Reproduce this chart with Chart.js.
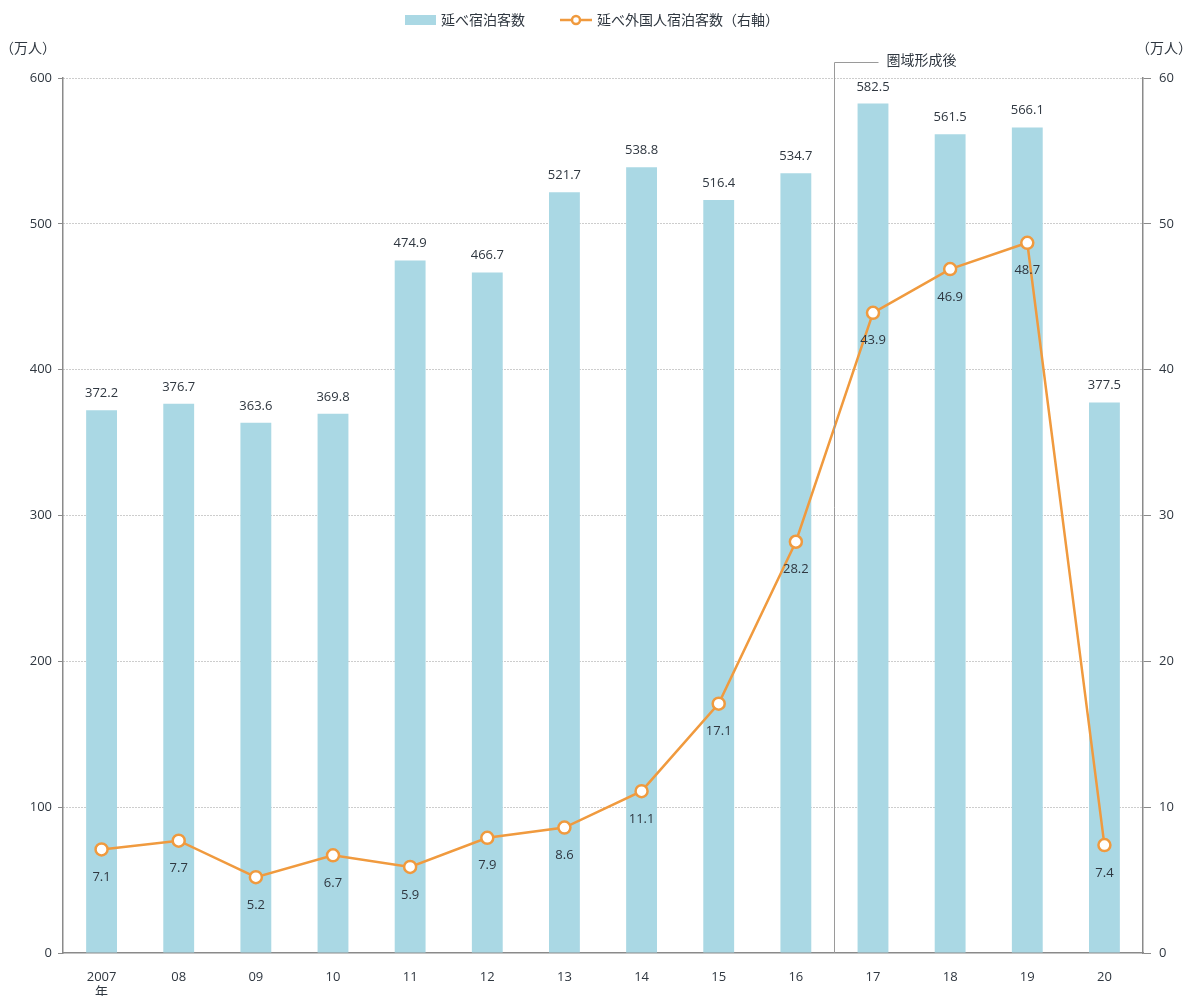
<!DOCTYPE html>
<html>
<head>
<meta charset="utf-8">
<script src="https://cdn.jsdelivr.net/npm/chart.js@4/dist/chart.umd.min.js"></script>
<style>
  html, body { margin: 0; padding: 0; background: #fff; }
  #wrap { width: 1192px; height: 996px; }
</style>
</head>
<body>
<div id="wrap"><canvas id="myChart" width="1192" height="996"></canvas></div>
<script>
var years = [['2007', '年'], '08', '09', '10', '11', '12', '13', '14', '15', '16', '17', '18', '19', '20'];
var guests = [372.2, 376.7, 363.6, 369.8, 474.9, 466.7, 521.7, 538.8, 516.4, 534.7, 582.5, 561.5, 566.1, 377.5];
var foreignGuests = [7.1, 7.7, 5.2, 6.7, 5.9, 7.9, 8.6, 11.1, 17.1, 28.2, 43.9, 46.9, 48.7, 7.4];
var leftTicks = [0, 100, 200, 300, 400, 500, 600];
var rightTicks = [0, 10, 20, 30, 40, 50, 60];

var FONT = '"Open Sans", "Noto Sans CJK JP", sans-serif';
var JFONT = '"Noto Sans CJK JP", sans-serif';
var barColor = '#aad8e4';
var lineColor = '#f09a3e';
var textColor = '#2f3740';
var axisColor = '#8a8a8a';

// value labels, legend, unit labels and the 圏域形成後 marker
var extras = {
  id: 'extras',
  afterDatasetsDraw: function(chart) {
    var ctx = chart.ctx;
    var x = chart.scales.x;
    var area = chart.chartArea;
    ctx.save();

    // separator
    var sx = Math.round(x.getPixelForValue(9.5)) + 0.5;
    ctx.strokeStyle = '#9a9a9a';
    ctx.lineWidth = 1;
    ctx.beginPath();
    ctx.moveTo(sx, area.bottom);
    ctx.lineTo(sx, 62.5);
    ctx.lineTo(sx + 44, 62.5);
    ctx.stroke();
    ctx.fillStyle = textColor;
    ctx.font = '14px ' + JFONT;
    ctx.textAlign = 'left';
    ctx.textBaseline = 'middle';
    ctx.fillText('圏域形成後', sx + 52, 60);

    // bar values
    ctx.font = '13px ' + FONT;
    ctx.textAlign = 'center';
    ctx.textBaseline = 'alphabetic';
    chart.getDatasetMeta(1).data.forEach(function(bar, i) {
      ctx.fillText(guests[i].toFixed(1), bar.x, bar.y - 13);
    });
    // line values
    ctx.textBaseline = 'middle';
    chart.getDatasetMeta(0).data.forEach(function(pt, i) {
      ctx.fillText(foreignGuests[i].toFixed(1), pt.x, pt.y + 28);
    });

    // units
    ctx.font = '14px ' + JFONT;
    ctx.textAlign = 'left';
    ctx.fillText('（万人）', 0, 48);
    ctx.fillText('（万人）', 1136, 48);

    // legend
    ctx.fillStyle = barColor;
    ctx.fillRect(405, 15, 31, 10);
    ctx.fillStyle = textColor;
    ctx.fillText('延べ宿泊客数', 441, 20);
    ctx.strokeStyle = lineColor;
    ctx.lineWidth = 2.5;
    ctx.beginPath();
    ctx.moveTo(560, 20);
    ctx.lineTo(592, 20);
    ctx.stroke();
    ctx.beginPath();
    ctx.arc(576, 20, 4, 0, Math.PI * 2);
    ctx.fillStyle = '#fff';
    ctx.fill();
    ctx.stroke();
    ctx.fillStyle = textColor;
    ctx.fillText('延べ外国人宿泊客数（右軸）', 597, 20);
    ctx.restore();
  }
};

var ctx = document.getElementById('myChart').getContext('2d');
var myChart = new Chart(ctx, {
  type: 'bar',
  data: {
    labels: years,
    datasets: [{
      type: 'line',
      label: '延べ外国人宿泊客数（右軸）',
      data: foreignGuests,
      yAxisID: 'y1',
      borderColor: lineColor,
      borderWidth: 2.5,
      backgroundColor: '#ffffff',
      pointBackgroundColor: '#ffffff',
      pointBorderColor: lineColor,
      pointBorderWidth: 2.5,
      pointRadius: 6,
      tension: 0,
      order: 0
    }, {
      label: '延べ宿泊客数',
      data: guests,
      yAxisID: 'y',
      backgroundColor: barColor,
      barPercentage: 0.8,
      categoryPercentage: 0.5,
      order: 1
    }]
  },
  plugins: [extras],
  options: {
    responsive: false,
    animation: false,
    events: [],
    layout: { padding: { top: 78, left: 0, right: 0, bottom: 0 } },
    plugins: {
      legend: { display: false },
      tooltip: { enabled: false }
    },
    scales: {
      x: {
        grid: { display: false },
        border: { display: true, color: axisColor, width: 1.5 },
        ticks: { color: textColor, font: { family: FONT, size: 13 }, padding: 8, maxRotation: 0, autoSkip: false },
        afterFit: function(s) { s.height = 43; }
      },
      y: {
        position: 'left',
        min: 0,
        max: 600,
        afterBuildTicks: function(s) { s.ticks = leftTicks.map(function(v) { return { value: v }; }); },
        grid: {
          color: function(c) { return c.tick && c.tick.value === 0 ? 'rgba(0,0,0,0)' : '#9a9a9a'; },
          lineWidth: 1,
          tickColor: axisColor,
          tickLength: 5
        },
        border: { display: true, color: axisColor, width: 1.5, dash: [1, 2] },
        ticks: { color: textColor, font: { family: FONT, size: 13 }, padding: 6 },
        afterFit: function(s) { s.width = 63; }
      },
      y1: {
        position: 'right',
        min: 0,
        max: 60,
        afterBuildTicks: function(s) { s.ticks = rightTicks.map(function(v) { return { value: v }; }); },
        grid: { drawOnChartArea: false, tickColor: axisColor, tickLength: 8 },
        border: { display: true, color: axisColor, width: 1.5 },
        ticks: { color: textColor, font: { family: FONT, size: 13 }, padding: 8 },
        afterFit: function(s) { s.width = 49; }
      }
    }
  }
});
</script>
</body>
</html>
